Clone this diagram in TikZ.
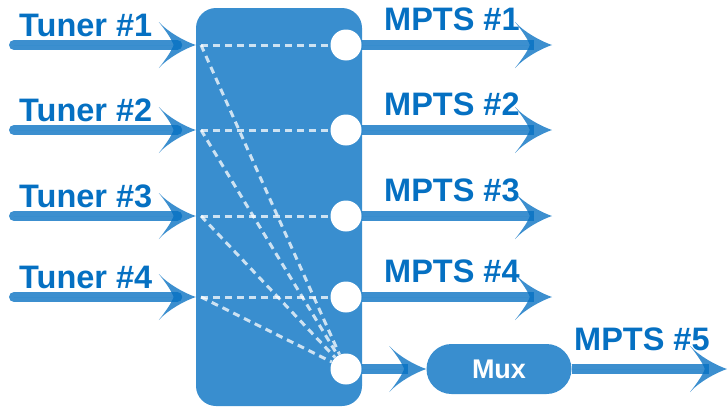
\documentclass[tikz,border=0pt]{standalone}
\usepackage{fontspec}
\setmainfont{Liberation Sans}
\usepackage{tikz}
\usetikzlibrary{arrows.meta}
\definecolor{boxblue}{RGB}{57,142,207}
\definecolor{labelblue}{RGB}{5,112,194}
% swept arrow head with hollow sides
\pgfdeclarearrow{
  name = Swoosh,
  parameters = {\the\pgfarrowlength,\the\pgfarrowwidth},
  setup code = {
    \pgfarrowssettipend{0pt}
    \pgfarrowssetbackend{-\pgfarrowlength}
    \pgfarrowssetlineend{-0.5\pgfarrowlength}
    \pgfarrowssavethe\pgfarrowlength
    \pgfarrowssavethe\pgfarrowwidth
  },
  drawing code = {
    \pgfpathmoveto{\pgfqpoint{0pt}{0pt}}
    \pgfpathcurveto{\pgfqpoint{-0.3\pgfarrowlength}{0.08\pgfarrowwidth}}{\pgfqpoint{-0.75\pgfarrowlength}{0.28\pgfarrowwidth}}{\pgfqpoint{-\pgfarrowlength}{0.5\pgfarrowwidth}}
    \pgfpathcurveto{\pgfqpoint{-0.8\pgfarrowlength}{0.3\pgfarrowwidth}}{\pgfqpoint{-0.65\pgfarrowlength}{0.12\pgfarrowwidth}}{\pgfqpoint{-0.6\pgfarrowlength}{0pt}}
    \pgfpathcurveto{\pgfqpoint{-0.65\pgfarrowlength}{-0.12\pgfarrowwidth}}{\pgfqpoint{-0.8\pgfarrowlength}{-0.3\pgfarrowwidth}}{\pgfqpoint{-\pgfarrowlength}{-0.5\pgfarrowwidth}}
    \pgfpathcurveto{\pgfqpoint{-0.75\pgfarrowlength}{-0.28\pgfarrowwidth}}{\pgfqpoint{-0.3\pgfarrowlength}{-0.08\pgfarrowwidth}}{\pgfqpoint{0pt}{0pt}}
    \pgfpathclose
    \pgfusepathqfill
  },
  defaults = {length=37pt, width=46pt}
}
\tikzstyle{feed} = [line width=10pt, draw=labelblue, fill=labelblue, opacity=0.78, line cap=round, -Swoosh]
\tikzstyle{port} = [circle, fill=white, minimum size=31pt, inner sep=0pt]
\tikzstyle{route} = [draw=white, opacity=0.75, line width=3pt, dash pattern=on 7pt off 5pt]
\tikzstyle{tag} = [anchor=base west, text=labelblue, font=\fontsize{32.5}{32.5}\selectfont\bfseries, inner sep=0pt]

\begin{document}
\begin{tikzpicture}[x=1pt,y=-1pt]
        \useasboundingbox (0,0) rectangle (728,407);
        \node (switch) [rectangle, rounded corners=20pt, fill=boxblue, minimum width=166pt, minimum height=398pt, inner sep=0pt] at (279,207) {};

        \foreach \i/\y in {1/45,2/130,3/216,4/297} {
            \coordinate (in\i) at (201,\y);
            \coordinate (src\i) at (14,\y);
            \coordinate (dst\i) at (552,\y);
            \node (o\i) [port] at (346,\y) {};
            \node (tuner\i) [tag] at (19,{\y-9}) {Tuner \#\i};
            \node (mpts\i) [tag] at (384,{\y-15}) {MPTS \#\i};
        }
        \node (o5) [port] at (346,369) {};
        \node (mux) [rectangle, rounded corners=25pt, fill=boxblue, minimum width=145pt, minimum height=50pt, text=white, font=\fontsize{27}{27}\selectfont\bfseries] at (499,369) {Mux};
        \coordinate (dst5) at (727,369);
        \node (mpts5) [tag] at (574,350) {MPTS \#5};

        % routes inside the switch
        \foreach \i in {1,...,4} {
            \draw [route] (in\i) -- (o\i);
            \draw [route] (in\i) -- (o5);
        }

        % tuner inputs and outputs
        \foreach \i in {1,...,4} {
            \draw [feed] (src\i) -- (src\i -| switch.west);
            \draw [feed, line cap=butt] (o\i) -- (dst\i);
        }
        \draw [feed, line cap=butt] (o5) -- (mux);
        \draw [feed, line cap=butt] (mux) -- (dst5);
    \end{tikzpicture}
\end{document}
